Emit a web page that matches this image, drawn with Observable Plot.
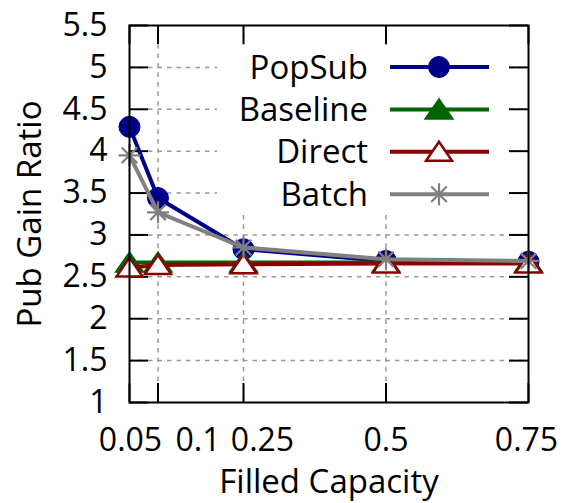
<!DOCTYPE html>
<html>
<head>
<meta charset="utf-8">
<script src="https://cdn.jsdelivr.net/npm/d3@7"></script>
<script src="https://cdn.jsdelivr.net/npm/@observablehq/plot@0.6"></script>
<style>
  html, body { margin: 0; padding: 0; background: white; }
  #chart svg { display: block; }
</style>
</head>
<body>
<div id="chart"></div>
<script>
// ---- data ----
const capacities = [0.05, 0.1, 0.25, 0.5, 0.75];
const popsub   = [4.29, 3.44, 2.83, 2.69, 2.68];
const baseline = [2.67, 2.67, 2.67, 2.67, 2.67];
const direct   = [2.61, 2.64, 2.65, 2.66, 2.66];
const batch    = [3.95, 3.27, 2.85, 2.71, 2.69];
const seriesNames = ["PopSub", "Baseline", "Direct", "Batch"];
const xTicks = [0.05, 0.1, 0.25, 0.5, 0.75];
const xTickLabels = ["0.05", "0.1", "0.25", "0.5", "0.75"];
const yTicks = [1, 1.5, 2, 2.5, 3, 3.5, 4, 4.5, 5, 5.5];
const yTickLabels = ["1", "1.5", "2", "2.5", "3", "3.5", "4", "4.5", "5", "5.5"];
const xGrid = [0.1, 0.25, 0.5];
const yGrid = [1.5, 2, 2.5, 3, 3.5, 4, 4.5, 5];

const seriesValues = [popsub, baseline, direct, batch];
const rows = seriesNames.flatMap((s, k) => capacities.map((c, i) => ({series: s, x: c, y: seriesValues[k][i]})));

// ---- symbols ----
const triFilled = { draw(ctx) { ctx.moveTo(0, -10.5); ctx.lineTo(-14, 9.5); ctx.lineTo(14, 9.5); ctx.closePath(); } };
const triOpen = { draw(ctx) { ctx.moveTo(0, -10); ctx.lineTo(-13, 9); ctx.lineTo(13, 9); ctx.closePath(); } };
const star = { draw(ctx) {
  const r = 11, d = r * Math.SQRT1_2;
  ctx.moveTo(-r, 0); ctx.lineTo(r, 0);
  ctx.moveTo(0, -r); ctx.lineTo(0, r);
  ctx.moveTo(-d, -d); ctx.lineTo(d, d);
  ctx.moveTo(-d, d); ctx.lineTo(d, -d);
} };

const styles = {
  PopSub:   {color: "#00008b", symbol: "circle", r: 10.5, fill: "#00008b", stroke: "#00008b", sw: 1},
  Baseline: {color: "#006400", symbol: triFilled, r: 10, fill: "#006400", stroke: "#006400", sw: 1.5},
  Direct:   {color: "#8b0000", symbol: triOpen, r: 10, fill: "white", stroke: "#8b0000", sw: 2.5},
  Batch:    {color: "#808080", symbol: star, r: 10, fill: "none", stroke: "#808080", sw: 2.2}
};

const W = 565, H = 503, ML = 129, MR = 37, MT = 25, MB = 101;
const FW = W - ML - MR, FH = H - MT - MB;
const font = "'Open Sans', 'DejaVu Sans', sans-serif";
const tickFont = 32, labelFont = 33;
// horizontal nudges of the x tick labels (as placed in the original figure)
const xLabelNudge = [1, 40, 19, 0, -2];

const seriesMarks = seriesNames.flatMap(s => {
  const st = styles[s];
  const d = rows.filter(r => r.series === s);
  return [
    Plot.line(d, {x: "x", y: "y", stroke: st.color, strokeWidth: 4}),
    Plot.dot(d, {x: "x", y: "y", symbol: () => st.symbol, r: st.r, fill: st.fill, stroke: st.stroke, strokeWidth: st.sw})
  ];
});

const xLabelMarks = xTicks.map((t, i) => Plot.text([t], {
  x: d => d, frameAnchor: "bottom", lineAnchor: "top", dy: 26, dx: xLabelNudge[i],
  text: () => xTickLabels[i], fontSize: tickFont, fill: "black"
}));

const chart = Plot.plot({
  width: W, height: H,
  marginLeft: ML, marginRight: MR, marginTop: MT, marginBottom: MB,
  style: {fontFamily: font, background: "white", color: "black", fontSize: tickFont + "px"},
  x: {domain: [0.05, 0.75], axis: null},
  y: {domain: [1, 5.5]},
  symbol: {type: "identity"},
  marks: [
    Plot.ruleY(yGrid, {stroke: "#999", strokeWidth: 1.5, strokeDasharray: "4.5,5"}),
    Plot.ruleX(xGrid, {stroke: "#999", strokeWidth: 1.5, strokeDasharray: "4.5,5"}),
    Plot.ruleY(yTicks, {insetRight: FW - 19, stroke: "black", strokeWidth: 2}),
    Plot.ruleY(yTicks, {insetLeft: FW - 19, stroke: "black", strokeWidth: 2}),
    Plot.ruleX(xTicks, {insetTop: FH - 19, stroke: "black", strokeWidth: 2}),
    Plot.ruleX(xTicks, {insetBottom: FH - 19, stroke: "black", strokeWidth: 2}),
    Plot.axisY(yTicks, {tickSize: 0, tickPadding: 22, fontSize: tickFont,
      tickFormat: d => yTickLabels[yTicks.indexOf(d)],
      label: null}),
    Plot.text(["Pub Gain Ratio"], {frameAnchor: "left", rotate: -90, lineAnchor: "top", textAnchor: "middle", dx: -112,
      text: d => d, fontSize: labelFont, fill: "black"}),
    ...xLabelMarks,
    Plot.text(["Filled Capacity"], {frameAnchor: "bottom", lineAnchor: "bottom", dy: 90,
      text: d => d, fontSize: labelFont, fill: "black"}),
    ...seriesMarks,
    Plot.frame({stroke: "black", strokeWidth: 2})
  ]
});

document.getElementById("chart").appendChild(chart);

// ---- legend (inside plot, opaque box) ----
const svg = d3.select(chart);
const lg = svg.append("g").attr("class", "legend");
lg.append("rect").attr("x", 217).attr("y", 45).attr("width", 290).attr("height", 170).attr("fill", "white");
seriesNames.forEach((s, i) => {
  const st = styles[s];
  const y = 67 + i * 42.4;
  lg.append("text").attr("x", 368).attr("y", y).attr("dy", "0.35em")
    .attr("text-anchor", "end").attr("font-family", font).attr("font-size", labelFont).attr("fill", "black").text(s);
  lg.append("line").attr("x1", 390).attr("x2", 489).attr("y1", y).attr("y2", y)
    .attr("stroke", st.color).attr("stroke-width", 4);
  lg.append("path").attr("transform", `translate(439,${y})`)
    .attr("d", d3.symbol(st.symbol === "circle" ? d3.symbolCircle : st.symbol, Math.PI * st.r * st.r)())
    .attr("fill", st.fill).attr("stroke", st.stroke).attr("stroke-width", st.sw);
});
</script>
</body>
</html>
